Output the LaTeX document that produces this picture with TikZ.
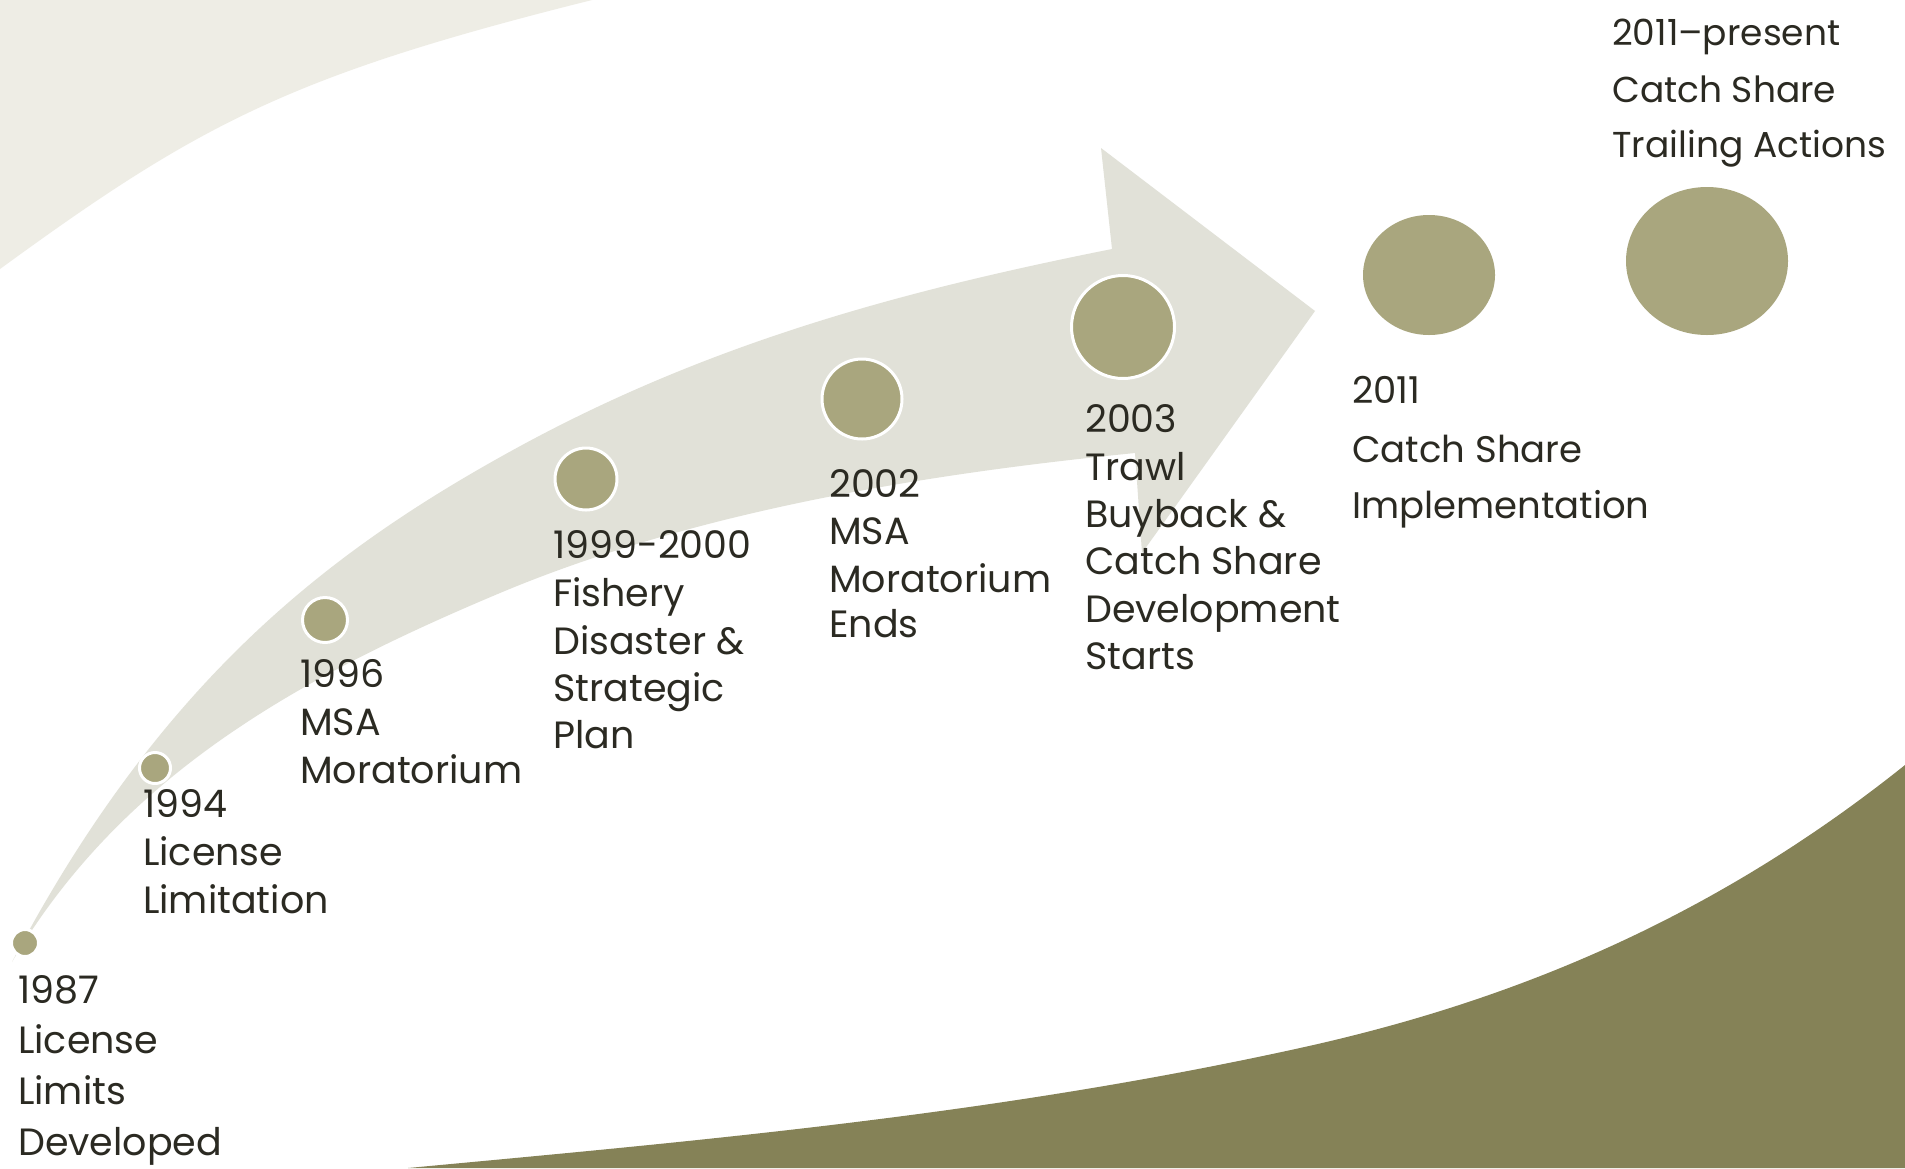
\documentclass[tikz,border=0pt]{standalone}
\usepackage{fontspec}
\setmainfont{Poppins}[Numbers=Monospaced]
\usetikzlibrary{shapes.geometric}
\definecolor{bgsw}{HTML}{EEEDE5}
\definecolor{arrc}{HTML}{E1E1D8}
\definecolor{dotc}{HTML}{A9A67E}
\definecolor{olive}{HTML}{858257}
\definecolor{txtc}{HTML}{2B2A22}
\begin{document}
\begin{tikzpicture}[x=1pt,y=-1pt,
  lbl/.style={font=\fontsize{38}{46}\selectfont, text=txtc, inner sep=0pt, anchor=base west},
  lblsmall/.style={lbl, font=\fontsize{36}{44}\selectfont},
  lblmid/.style={lbl, font=\fontsize{37}{45}\selectfont},
  dot/.style={circle, fill=dotc, draw=white, line width=3pt, inner sep=0pt},
  bigdot/.style={ellipse, fill=dotc, inner sep=0pt}]
\useasboundingbox (0,0) rectangle (1905,1168);
\fill[white] (0,0) rectangle (1905,1168);
\begin{scope}
\clip (0,0) rectangle (1905,1168);
% top-left swoosh
\fill[bgsw] (0,0) -- (592,0) .. controls (292,75) and (200,123) .. (0,269) -- cycle;
% bottom-right olive swoosh
\fill[olive] (1905,1168) -- (408,1168)
  .. controls (708,1140) and (1000,1114) .. (1300,1048)
  .. controls (1500,1004) and (1705,925) .. (1905,765) -- cycle;
% big curved arrow
\fill[arrc] (12,962)
  .. controls (162,677) and (333,549) .. (513,450)
  .. controls (713,340) and (912,289) .. (1112,249)
  -- (1101,148) -- (1315,311) -- (1142,553) -- (1135,453)
  .. controls (935,473) and (700,509) .. (500,593)
  .. controls (300,677) and (122,775) .. (12,962) -- cycle;
\end{scope}
% dots
\node[dot, minimum size=27pt] (c1987) at (25,943) {};
\node[dot, minimum size=31pt] (c1994) at (155,768) {};
\node[dot, minimum size=45pt] (c1996) at (325,620) {};
\node[dot, minimum size=62pt] (c1999) at (586,479) {};
\node[dot, minimum size=80pt] (c2002) at (862,399) {};
\node[dot, minimum size=103pt] (c2003) at (1123,327) {};
\node[bigdot, minimum width=132pt, minimum height=120pt] (c2011) at (1429,275) {};
\node[bigdot, minimum width=162pt, minimum height=148pt] (c2011p) at (1707,261) {};
% labels 1987
\node[lbl] (t87a) at (18,1003) {1987};
\node[lbl] (t87b) at (18,1053) {License};
\node[lbl] (t87c) at (18,1104) {Limits};
\node[lbl] (t87d) at (18,1155) {Developed};
% 1994
\node[lbl] (t94a) at (143,817) {1994};
\node[lbl] (t94b) at (143,865) {License};
\node[lbl] (t94c) at (143,913) {Limitation};
% 1996
\node[lbl] (t96a) at (300,687) {1996};
\node[lbl] (t96b) at (300,735) {MSA};
\node[lbl] (t96c) at (300,783) {Moratorium};
% 1999-2000
\node[lbl] (t99a) at (553,558) {1999-2000};
\node[lbl] (t99b) at (553,606) {Fishery};
\node[lbl] (t99c) at (553,654) {Disaster \&};
\node[lbl] (t99d) at (553,701) {Strategic};
\node[lbl] (t99e) at (553,748) {Plan};
% 2002
\node[lbl] (t02a) at (829,497) {2002};
\node[lbl] (t02b) at (829,544) {MSA};
\node[lbl] (t02c) at (829,592) {Moratorium};
\node[lbl] (t02d) at (829,637) {Ends};
% 2003
\node[lbl] (t03a) at (1085,432) {2003};
\node[lbl] (t03b) at (1085,480) {Trawl};
\node[lbl] (t03c) at (1085,527) {Buyback \&};
\node[lbl] (t03d) at (1085,574) {Catch Share};
\node[lbl] (t03e) at (1085,622) {Development};
\node[lbl] (t03f) at (1085,669) {Starts};
% 2011
\node[lblmid] (t11a) at (1352,403) {2011};
\node[lblmid] (t11b) at (1352,462) {Catch Share};
\node[lblmid] (t11c) at (1352,518) {Implementation};
% 2011-present
\node[lblsmall] (t11pa) at (1612,45) {2011–present};
\node[lblsmall] (t11pb) at (1612,102) {Catch Share};
\node[lblsmall] (t11pc) at (1612,157) {Trailing Actions};
\end{tikzpicture}
\end{document}
